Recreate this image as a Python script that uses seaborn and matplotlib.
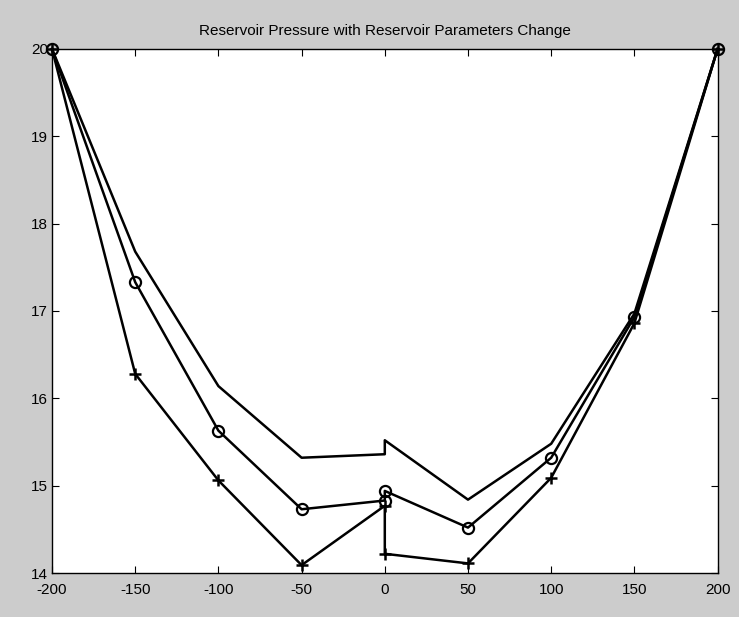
import matplotlib
matplotlib.use("Agg")
import matplotlib.pyplot as plt
import seaborn as sns

# x=0 appears twice in every series (jump at the well location)
x_vals = [-200, -150, -100, -50, 0, 0, 50, 100, 150, 200]
pressure_plain = [20, 17.68, 16.14, 15.32, 15.36, 15.52, 14.84, 15.48, 16.97, 20]
pressure_circle = [20, 17.33, 15.63, 14.73, 14.83, 14.94, 14.52, 15.32, 16.93, 20]
pressure_plus = [20, 16.28, 15.06, 14.09, 14.77, 14.22, 14.11, 15.09, 16.86, 20]

x_ticks = [-200, -150, -100, -50, 0, 50, 100, 150, 200]
y_ticks = [14, 15, 16, 17, 18, 19, 20]
title = "Reservoir Pressure with Reservoir Parameters Change"

plt.rcParams['font.family'] = ['Liberation Sans', 'DejaVu Sans']

fig = plt.figure(figsize=(7.39, 6.17), dpi=100, facecolor="#cccccc")
ax = fig.add_axes([0.0704, 0.0713, 0.9006, 0.8493])
ax.set_facecolor("white")

lw = 1.8
sns.lineplot(x=x_vals, y=pressure_plain, sort=False, estimator=None,
             color="black", linewidth=lw, ax=ax)
sns.lineplot(x=x_vals, y=pressure_circle, sort=False, estimator=None,
             color="black", linewidth=lw, marker="o", markersize=8,
             markerfacecolor="none", markeredgecolor="black", markeredgewidth=1.6, ax=ax)
sns.lineplot(x=x_vals, y=pressure_plus, sort=False, estimator=None,
             color="black", linewidth=lw, marker="+", markersize=9,
             markeredgecolor="black", markeredgewidth=1.8, ax=ax)

ax.set_xlim(-200, 200)
ax.set_ylim(14, 20)
ax.set_xticks(x_ticks)
ax.set_yticks(y_ticks)
ax.set_xticklabels([str(t) for t in x_ticks])
ax.set_yticklabels([str(t) for t in y_ticks])
ax.tick_params(direction="in", top=True, right=True, length=5, width=0.8,
               labelsize=11, colors="black", pad=3)
ax.tick_params(axis="x", pad=7)
for sp in ax.spines.values():
    sp.set_linewidth(1.0)
    sp.set_color("black")
    sp.set_zorder(1)
for line in ax.lines:
    line.set_clip_on(False)

ax.set_title(title, fontsize=11, pad=10)

fig.savefig("out.png", dpi=100, facecolor=fig.get_facecolor())
